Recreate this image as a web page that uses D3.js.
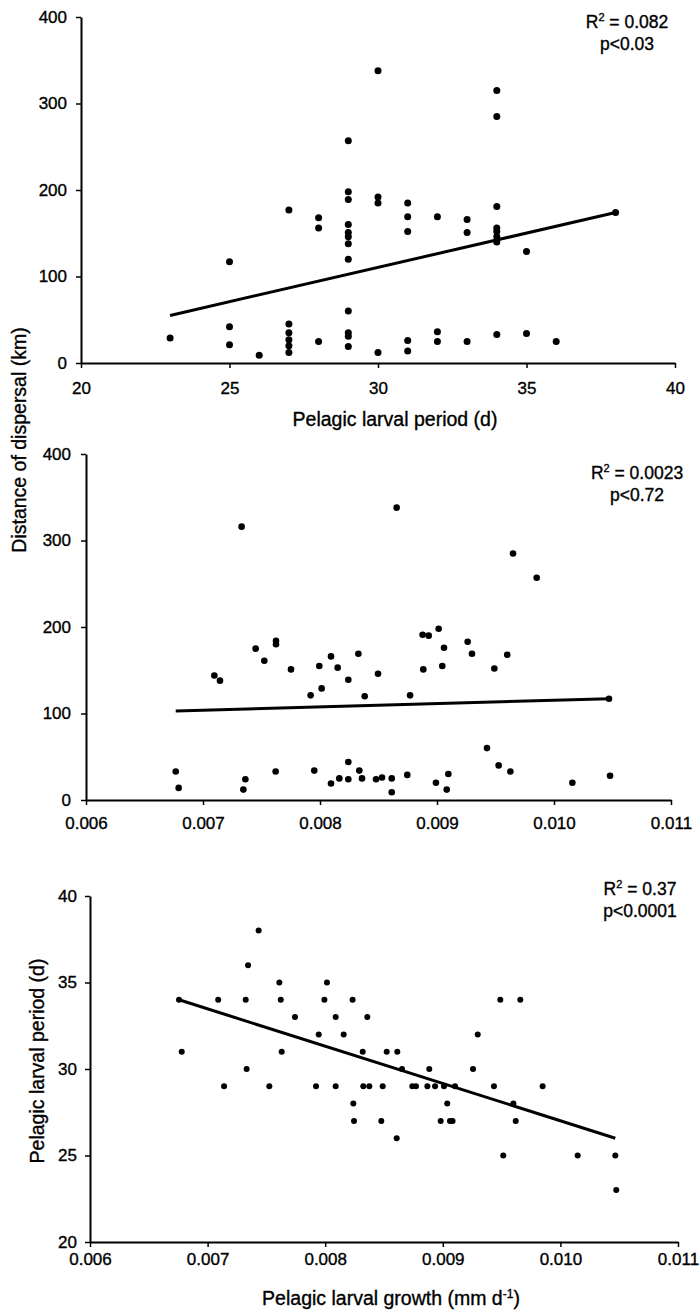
<!DOCTYPE html>
<html>
<head>
<meta charset="utf-8">
<script src="https://cdn.jsdelivr.net/npm/d3@7"></script>
<style>
  body { margin: 0; background: #fff; }
  svg { display: block; }
  text { font-family: Arial, "Liberation Sans", sans-serif; fill: #000; stroke: #000; stroke-width: 0.35px; }
</style>
</head>
<body>
<svg width="700" height="1314"></svg>
<script>
// panel 1: pelagic larval period (d) vs distance of dispersal (km)
var periodDispersal = [
  [23,29],[25,117],[25,42],[25,21],[26,9],
  [27,177],[27,45],[27,35],[27,27],[27,20],[27,12],
  [28,168],[28,156],[28,25],
  [29,257],[29,198],[29,189],[29,160],[29,151],[29,146],[29,138],[29,120],[29,60],[29,35],[29,31],[29,19],
  [30,338],[30,192],[30,185],[30,12],
  [31,185],[31,169],[31,152],[31,26],[31,14],
  [32,169],[32,36],[32,25],
  [33,166],[33,151],[33,25],
  [34,315],[34,285],[34,181],[34,156],[34,152],[34,146],[34,140],[34,33],
  [35,129],[35,34],[36,25],[38,174]
];
var periodDispersalFit = [[23,55],[38,174]];

// panel 2: pelagic larval growth vs distance of dispersal
var growthDispersal = [
  [0.00733,316],[0.008655,338],[0.00965,285],[0.009852,257],
  [0.007097,144],[0.007145,138],[0.00745,175],[0.007524,161],[0.007624,184],[0.007624,180],
  [0.007752,151],[0.00792,121],[0.007994,155],[0.008014,129],[0.008094,166],[0.008151,153],[0.008242,139],
  [0.008328,169],[0.008496,146],[0.008382,120],[0.00877,121],[0.008877,191],[0.008929,190],
  [0.009014,198],[0.00906,176],[0.008883,151],[0.009045,155],[0.009262,183],[0.009299,169],
  [0.00949,152],[0.0096,168],
  [0.006767,33],[0.006792,14],[0.007345,12],[0.007362,24],[0.007621,33],[0.007951,34],
  [0.008094,19],[0.008165,25],[0.008242,44],[0.008242,24],[0.008336,34],[0.008359,25],
  [0.008479,24],[0.00853,26],[0.008613,25],[0.008613,9],[0.008746,29],[0.008991,20],
  [0.009083,12],[0.009097,30],[0.009427,60],[0.009527,40],[0.009627,33],[0.010157,20],
  [0.010479,28],[0.01047,117]
];
var growthDispersalFit = [[0.006767,103],[0.01047,117]];

// panel 3: pelagic larval growth vs pelagic larval period
var growthPeriod = [
  [0.007434,38],[0.007344,36],[0.00761,35],[0.008015,35],
  [0.006757,34],[0.00709,34],[0.007324,34],[0.007622,34],[0.007993,34],[0.008233,34],[0.009489,34],[0.009659,34],
  [0.007743,33],[0.008089,33],[0.008358,33],
  [0.007945,32],[0.008157,32],[0.009297,32],
  [0.00678,31],[0.00763,31],[0.008319,31],[0.008523,31],[0.008613,31],
  [0.007332,30],[0.008653,30],[0.008885,30],[0.009257,30],
  [0.00714,29],[0.007525,29],[0.007922,29],[0.008089,29],[0.008324,29],[0.008375,29],[0.008489,29],
  [0.008741,29],[0.008772,29],[0.008869,29],[0.008934,29],[0.00901,29],[0.009104,29],[0.009435,29],[0.009849,29],
  [0.008239,28],[0.009038,28],[0.0096,28],
  [0.008245,27],[0.008477,27],[0.008982,27],[0.009061,27],[0.009083,27],[0.00962,27],
  [0.008608,26],[0.009514,25],[0.010147,25],[0.010467,25],[0.010475,23]
];
var growthPeriodFit = [[0.006757,34],[0.010467,26]];

var periodTicks = [20,25,30,35,40];
var growthTicks = [0.006,0.007,0.008,0.009,0.010,0.011];
var dispersalTicks = [0,100,200,300,400];
var periodYTicks = [20,25,30,35,40];

var r2Labels = ["0.082","0.0023","0.37"];
var pLabels = ["p<0.03","p<0.72","p<0.0001"];

var svg = d3.select("svg");

var panels = [
  {data: periodDispersal, fit: periodDispersalFit, xd: [20,40], xr: [81,675], yd: [0,400], yr: [363,17],
   xt: periodTicks, yt: dispersalTicks, xf: d3.format("d"), ypad: 9, xpad: 14, r: 3.5, note: [627,28]},
  {data: growthDispersal, fit: growthDispersalFit, xd: [0.006,0.011], xr: [86,671], yd: [0,400], yr: [800,454],
   xt: growthTicks, yt: dispersalTicks, xf: d3.format(".3f"), ypad: 10, xpad: 12, r: 3.3, note: [637,479]},
  {data: growthPeriod, fit: growthPeriodFit, xd: [0.006,0.011], xr: [90,678], yd: [20,40], yr: [1242,896],
   xt: growthTicks, yt: periodYTicks, xf: d3.format(".3f"), ypad: 8, xpad: 6, r: 3, note: [640,895]}
];

panels.forEach(function(p, i) {
  var x = d3.scaleLinear().domain(p.xd).range(p.xr);
  var y = d3.scaleLinear().domain(p.yd).range(p.yr);
  var g = svg.append("g");

  var xAxis = g.append("g")
    .attr("transform", "translate(0," + p.yr[0] + ")")
    .call(d3.axisBottom(x).tickValues(p.xt).tickFormat(p.xf).tickSize(5).tickSizeOuter(0).tickPadding(p.xpad));
  var yAxis = g.append("g")
    .attr("transform", "translate(" + p.xr[0] + ",0)")
    .call(d3.axisLeft(y).tickValues(p.yt).tickFormat(d3.format("d")).tickSize(5).tickSizeOuter(0).tickPadding(p.ypad));

  [xAxis, yAxis].forEach(function(a) {
    a.select(".domain").attr("stroke", "#000").attr("stroke-width", 2);
    a.selectAll(".tick line").attr("stroke", "#000").attr("stroke-width", 1.5);
    a.selectAll(".tick text").style("font-size", "17px").attr("fill", "#000");
  });

  g.append("line")
    .attr("x1", x(p.fit[0][0])).attr("y1", y(p.fit[0][1]))
    .attr("x2", x(p.fit[1][0])).attr("y2", y(p.fit[1][1]))
    .attr("stroke", "#000").attr("stroke-width", 3);

  g.selectAll("circle")
    .data(p.data)
    .enter().append("circle")
      .attr("cx", function(d) { return x(d[0]); })
      .attr("cy", function(d) { return y(d[1]); })
      .attr("r", p.r)
      .attr("fill", "#000");

  var r2 = g.append("text")
    .attr("x", p.note[0]).attr("y", p.note[1])
    .attr("text-anchor", "middle")
    .style("font-size", "17.5px");
  r2.append("tspan").text("R");
  r2.append("tspan").attr("dy", -7).style("font-size", "11px").text("2");
  r2.append("tspan").attr("dy", 7).text(" = " + r2Labels[i]);

  g.append("text")
    .attr("x", p.note[0]).attr("y", p.note[1] + 22)
    .attr("text-anchor", "middle")
    .style("font-size", "17.5px")
    .text(pLabels[i]);
});

// axis titles
svg.append("text")
  .attr("x", 395).attr("y", 426)
  .attr("text-anchor", "middle")
  .style("font-size", "19.5px")
  .text("Pelagic larval period (d)");

svg.append("text")
  .attr("transform", "translate(26,440) rotate(-90)")
  .attr("text-anchor", "middle")
  .style("font-size", "19.5px")
  .text("Distance of dispersal (km)");

svg.append("text")
  .attr("transform", "translate(44,1061) rotate(-90)")
  .attr("text-anchor", "middle")
  .style("font-size", "19.5px")
  .text("Pelagic larval period (d)");

var growthTitle = svg.append("text")
  .attr("x", 391).attr("y", 1305)
  .attr("text-anchor", "middle")
  .style("font-size", "19.5px");
growthTitle.append("tspan").text("Pelagic larval growth (mm d");
growthTitle.append("tspan").attr("dy", -7).style("font-size", "12px").text("-1");
growthTitle.append("tspan").attr("dy", 7).text(")");
</script>
</body>
</html>
